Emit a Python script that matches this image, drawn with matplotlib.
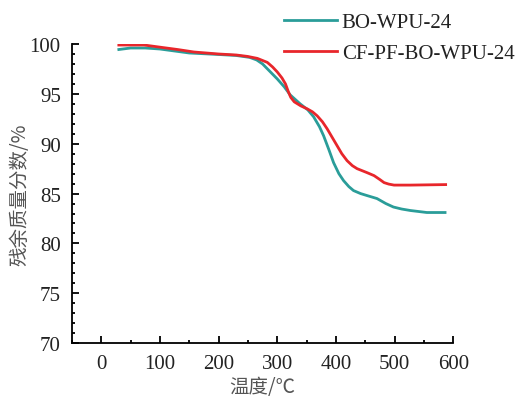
import numpy as np
import matplotlib
matplotlib.use("Agg")
import matplotlib.pyplot as plt
from matplotlib.ticker import MultipleLocator

# TGA curves
temp_bo = [30, 50, 75, 100, 150, 200, 230, 253, 265, 275, 290, 300, 312, 322, 339, 352, 362, 372, 379, 388, 396, 405, 413, 422, 430, 442, 453, 470, 485, 498, 512, 527, 555, 586]
mass_bo = [99.45, 99.6, 99.6, 99.5, 99.1, 98.95, 98.85, 98.66, 98.4, 98.0, 97.1, 96.5, 95.7, 94.9, 94.0, 93.4, 92.7, 91.7, 90.8, 89.4, 88.1, 87.0, 86.3, 85.7, 85.3, 85.0, 84.8, 84.5, 84.0, 83.65, 83.45, 83.3, 83.1, 83.1]

temp_cf = [30, 73, 102, 130, 158, 200, 230, 249, 266, 283, 292, 300, 308, 314, 319, 323, 329, 340, 351, 360, 368, 377, 385, 393, 402, 410, 419, 428, 436, 453, 465, 475, 482, 490, 499, 527, 587]
mass_cf = [99.9, 99.9, 99.67, 99.45, 99.2, 99.0, 98.9, 98.76, 98.56, 98.16, 97.7, 97.2, 96.6, 96.0, 95.2, 94.65, 94.2, 93.8, 93.5, 93.2, 92.8, 92.2, 91.5, 90.7, 89.8, 89.0, 88.3, 87.8, 87.5, 87.1, 86.8, 86.4, 86.1, 85.95, 85.85, 85.85, 85.9]

labels = ["BO-WPU-24", "CF-PF-BO-WPU-24"]
colors = ["#2a9d99", "#e8262b"]

serif = ["Liberation Serif", "DejaVu Serif"]
cjk = ["Noto Sans CJK SC", "DejaVu Sans"]

fig = plt.figure(figsize=(5.21, 4.02), dpi=100)
ax = fig.add_axes([0.138, 0.144, 0.732, 0.744])

ax.plot(temp_bo, mass_bo, color=colors[0], lw=2.0, label=labels[0])
ax.plot(temp_cf, mass_cf, color=colors[1], lw=2.0, label=labels[1])

ax.set_xlim(-50, 600)
ax.set_ylim(70, 100)
ax.xaxis.set_major_locator(MultipleLocator(100))
ax.xaxis.set_minor_locator(MultipleLocator(50))
ax.yaxis.set_major_locator(MultipleLocator(5))
ax.yaxis.set_minor_locator(MultipleLocator(1))

for s in ["top", "right"]:
    ax.spines[s].set_visible(False)
for s in ["left", "bottom"]:
    ax.spines[s].set_linewidth(1.3)

ax.tick_params(which="major", direction="in", length=5, width=1.3, labelsize=15, pad=8)
ax.tick_params(which="minor", direction="in", length=2.5, width=1.3)
for t in ax.get_xticklabels() + ax.get_yticklabels():
    t.set_family(serif)
    t.set_color("#222222")

ax.set_xlabel("温度/℃", family=cjk, fontsize=14, color="#555555", labelpad=2)
ax.set_ylabel("残余质量分数/%", family=cjk, fontsize=14, color="#555555")
ax.yaxis.set_label_coords(-0.11, 0.5)

leg = ax.legend(loc="upper left", bbox_to_anchor=(0.52, 1.0), bbox_transform=fig.transFigure,
                frameon=False, handlelength=2.5, handletextpad=0.25, labelspacing=0.55,
                borderaxespad=0.25, prop={"family": serif, "size": 15})
for t in leg.get_texts():
    t.set_color("#222222")

fig.savefig("out.png", dpi=100)
